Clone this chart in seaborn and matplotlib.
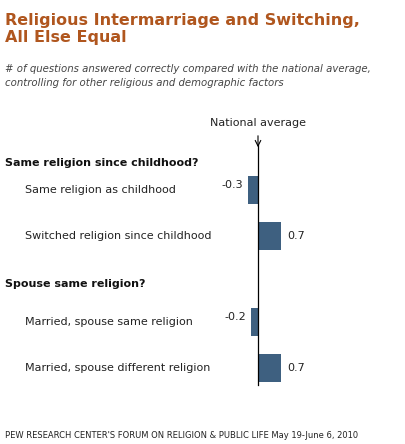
import matplotlib
matplotlib.use("Agg")
import matplotlib.pyplot as plt
import seaborn as sns
import pandas as pd

categories = ["Same religion as childhood", "Switched religion since childhood",
              "Married, spouse same religion", "Married, spouse different religion"]
values = [-0.3, 0.7, -0.2, 0.7]
value_labels = ["-0.3", "0.7", "-0.2", "0.7"]
headers = ["Same religion since childhood?", "Spouse same religion?"]

W, H = 405, 444
fig = plt.figure(figsize=(W/100, H/100), dpi=100)
ax = fig.add_axes([0, 0, 1, 1])
x0, unit = 258, 33.0
ax.set_xlim(-x0/unit, (W - x0)/unit)
ax.set_ylim(H, 0)
ax.axis("off")

row_y = [190, 236, 322, 368]
df = pd.DataFrame({"v": values, "y": row_y})
sns.barplot(data=df, x="v", y="y", orient="h", native_scale=True, width=28/46,
            color="#3e6080", saturation=1, ax=ax, legend=False)
for p in ax.patches:
    p.set_edgecolor("none")

def X(px):
    return (px - x0) / unit

ax.plot([0, 0], [145, 385], color="black", lw=0.9)
ax.annotate("", xy=(0, 150), xytext=(0, 133),
            arrowprops=dict(arrowstyle="->", color="black", lw=0.8))
ax.text(0, 123, "National average", ha="center", va="center", fontsize=8, color="#222")

for c, v, lab, y in zip(categories, values, value_labels, row_y):
    ax.text(X(25), y, c, ha="left", va="center", fontsize=8, color="#222")
    if v < 0:
        ax.text(v - 0.15, y - 5, lab, ha="right", va="center", fontsize=8, color="#222")
    else:
        ax.text(v + 0.2, y, lab, ha="left", va="center", fontsize=8, color="#222")

for h, y in zip(headers, [163, 284]):
    ax.text(X(5), y, h, ha="left", va="center", fontsize=8, fontweight="bold", color="#111")

ax.text(X(5), 29, "Religious Intermarriage and Switching,\nAll Else Equal", ha="left", va="center",
        fontsize=11.5, fontweight="bold", color="#b0561e", linespacing=1.15)
ax.text(X(5), 76, "# of questions answered correctly compared with the national average,\n"
        "controlling for other religious and demographic factors", ha="left", va="center",
        fontsize=7.3, style="italic", color="#444", linespacing=1.4)
ax.text(X(5), 435, "PEW RESEARCH CENTER'S FORUM ON RELIGION & PUBLIC LIFE May 19-June 6, 2010",
        ha="left", va="center", fontsize=6, color="#222")

fig.savefig("out.png", dpi=100)
